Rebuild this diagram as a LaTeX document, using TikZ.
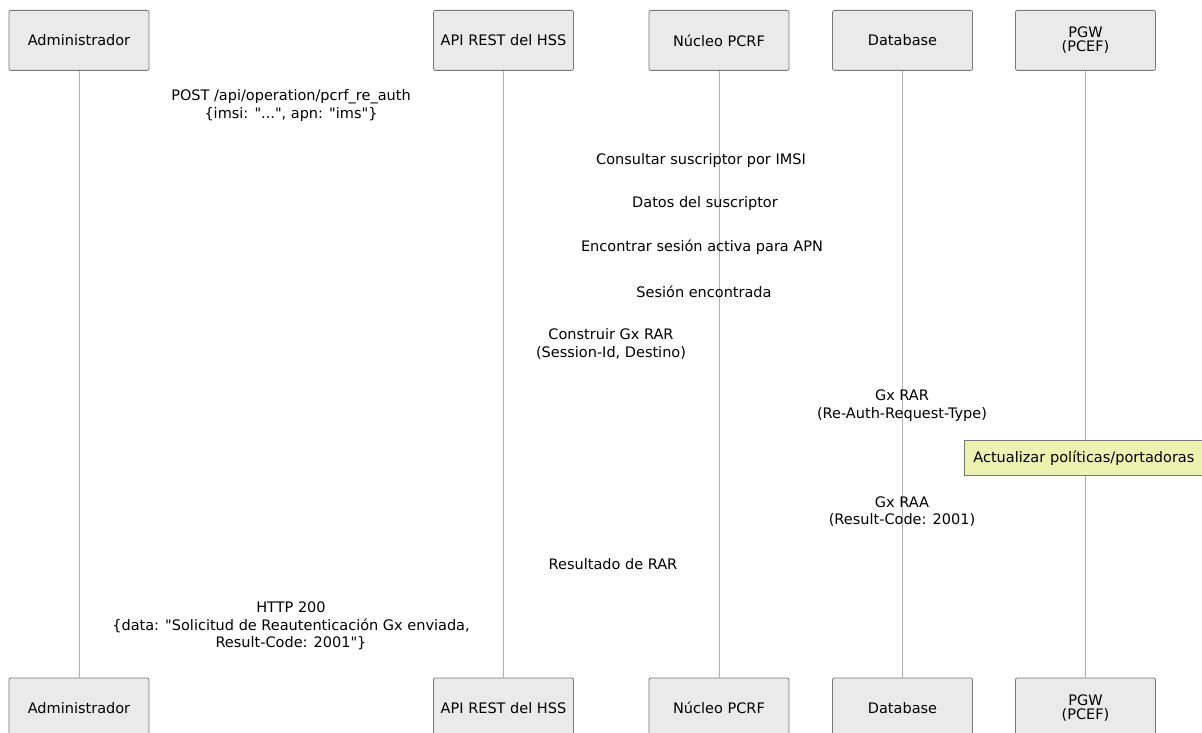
\documentclass[tikz,border=0pt]{standalone}
\usepackage{fontspec}
\setmainfont{DejaVu Sans}[Ligatures=TeXOff]
\definecolor{boxfill}{RGB}{234,234,234}
\definecolor{boxdraw}{RGB}{120,120,120}
\definecolor{lifeline}{RGB}{175,175,175}
\definecolor{notefill}{RGB}{238,242,176}
\definecolor{notedraw}{RGB}{120,120,120}
\begin{document}
\begin{tikzpicture}[x=1pt,y=-1pt,
  actor/.style={draw=boxdraw,fill=boxfill,rounded corners=2pt,line width=0.8pt,
    minimum width=140pt,minimum height=60pt,anchor=north,inner sep=0pt,
    font=\fontsize{14.5}{14}\selectfont,align=center},
  msg/.style={font=\fontsize{14.5}{17.5}\selectfont,align=center,inner sep=0pt,anchor=center},
  life/.style={draw=lifeline,line width=0.9pt}]
\useasboundingbox (0,0) rectangle (1202,733);
% top actors
\node[actor] (a1) at (79,10) {Administrador};
\node[actor] (a2) at (503.5,10) {API REST del HSS};
\node[actor] (a3) at (719,10) {Núcleo PCRF};
\node[actor] (a4) at (902.5,10) {Database};
\node[actor] (a5) at (1085.5,10) {PGW\\(PCEF)};
% bottom actors
\node[actor] (b1) at (79,677.5) {Administrador};
\node[actor] (b2) at (503.5,677.5) {API REST del HSS};
\node[actor] (b3) at (719,677.5) {Núcleo PCRF};
\node[actor] (b4) at (902.5,677.5) {Database};
\node[actor] (b5) at (1085.5,677.5) {PGW\\(PCEF)};
% lifelines
\foreach \i in {1,...,5}{\draw[life] (a\i.south) -- (b\i.north);}
% message labels
\node[msg] (m1) at (291,105.5) {POST /api/operation/pcrf\_re\_auth\\\{imsi: "...", apn: "ims"\}};
\node[msg] (m2) at (701,160) {Consultar suscriptor por IMSI};
\node[msg] (m3) at (705,203) {Datos del suscriptor};
\node[msg] (m4) at (702,247) {Encontrar sesión activa para APN};
\node[msg] (m5) at (704,292) {Sesión encontrada};
\node[msg] (m6) at (611,344) {Construir Gx RAR\\(Session-Id, Destino)};
\node[msg] (m7) at (902,405.5) {Gx RAR\\(Re-Auth-Request-Type)};
\node[msg] (m8) at (902,511.5) {Gx RAA\\(Result-Code: 2001)};
\node[msg] (m9) at (613,564) {Resultado de RAR};
\node[msg] (m10) at (291,626) {HTTP 200\\\{data: "Solicitud de Reautenticación Gx enviada,\\Result-Code: 2001"\}};
% note
\node[draw=notedraw,fill=notefill,line width=0.8pt,anchor=north west,minimum height=35pt,
  inner xsep=9pt,inner ysep=0pt,font=\fontsize{14.5}{14}\selectfont,text width=240pt] (n1) at (964,440)
  {Actualizar políticas/portadoras};
\end{tikzpicture}
\end{document}
